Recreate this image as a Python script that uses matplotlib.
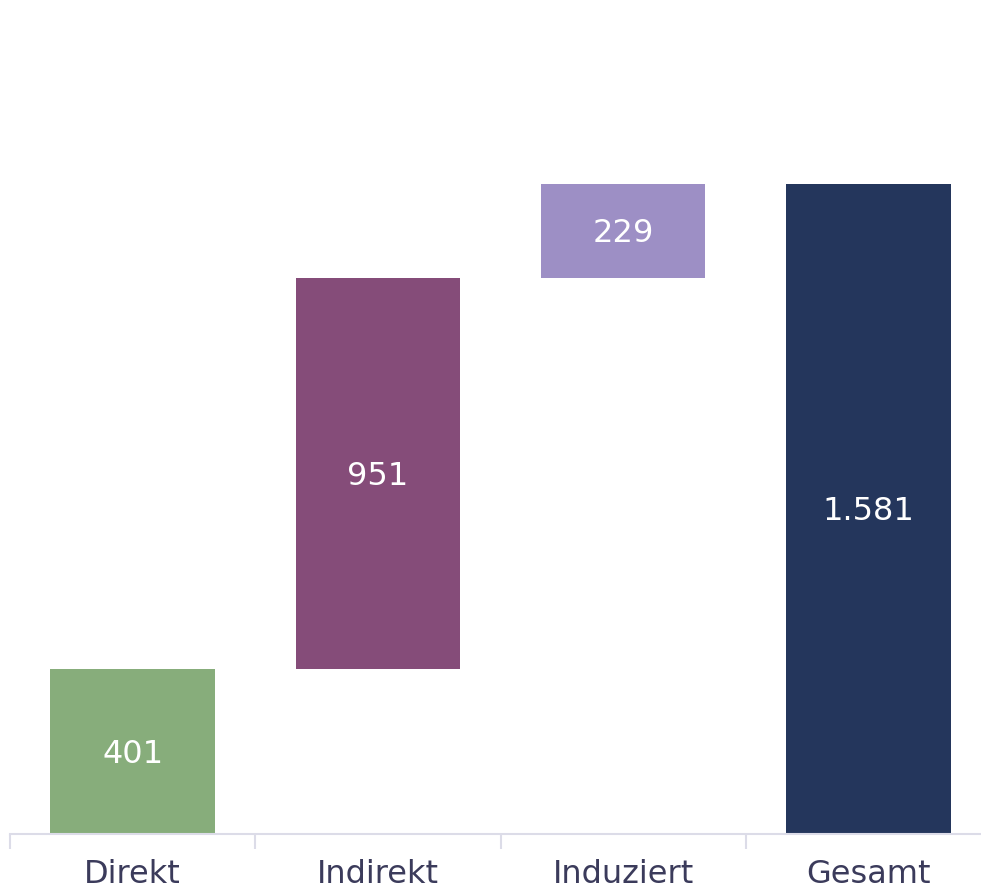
import matplotlib.pyplot as plt

categories = ['Direkt', 'Indirekt', 'Induziert', 'Gesamt']
values = [401, 951, 229, 1581]
labels = ['401', '951', '229', '1.581']
colors = ['#87AD7B', '#854C79', '#9D8FC5', '#24365C']

# waterfall bases: steps stack on each other, total starts at zero
bases = [0, 401, 401 + 951, 0]

fig = plt.figure(figsize=(9.81, 8.93), dpi=100)
# plot area runs a bit past the right edge of the figure
ax = fig.add_axes([10 / 981, 59 / 893, 981 / 981, 834 / 893])

x = range(len(categories))
ax.bar(x, values, bottom=bases, width=0.67, color=colors, zorder=2)

for i, (v, b, t) in enumerate(zip(values, bases, labels)):
    ax.text(i, b + v / 2 - 6, t, ha='center', va='center', color='white',
            fontsize=23, fontfamily='DejaVu Sans')

ax.set_xlim(-0.5, 3.5)
ax.set_ylim(0, 2029)

for s in ['top', 'right', 'left']:
    ax.spines[s].set_visible(False)
ax.spines['bottom'].set_color('#DCDCE8')
ax.spines['bottom'].set_linewidth(1.5)

ax.set_yticks([])
ax.set_xticks(list(x))
ax.set_xticklabels(categories, fontsize=23, color='#3B3B5B')
ax.tick_params(axis='x', which='major', length=0, pad=18)
ax.set_xticks([-0.5, 0.5, 1.5, 2.5, 3.5], minor=True)
ax.tick_params(axis='x', which='minor', length=11, width=1.5, color='#DCDCE8')

fig.savefig('out.png', dpi=100)
